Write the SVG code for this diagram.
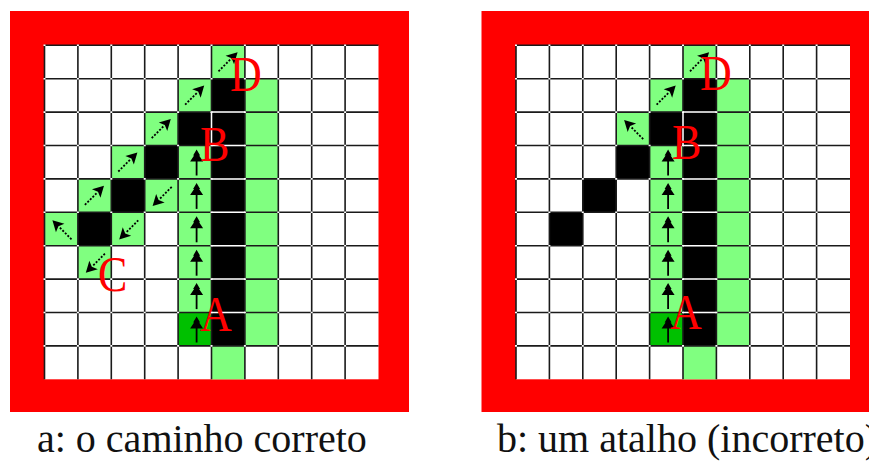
<svg xmlns="http://www.w3.org/2000/svg" xmlns:xlink="http://www.w3.org/1999/xlink" width="869" height="465" viewBox="0 0 869 465">
<style>
.frame{fill:#ff0000}
.bg{fill:#ffffff}
.lg{fill:#80ff80}
.dg{fill:#00c000}
.bk{fill:#000000}
.grid{stroke:#1a1a1a;stroke-width:1.6;fill:none}
.dots{stroke:#ffffff;stroke-width:1.6;stroke-dasharray:2 31.4;fill:none}
.wl{stroke:#ffffff;stroke-width:1.5;fill:none}
.lbl{font-family:"Liberation Serif","DejaVu Serif",serif;font-size:44px;fill:#ff0000}
.cap{font-family:"Liberation Serif","DejaVu Serif",serif;font-size:40px;fill:#111111}
</style>
<defs>
<g id="up">
<line x1="18.5" y1="13" x2="18.5" y2="30" stroke="#000" stroke-width="1.8"/>
<path d="M18.5,4 L22,10 L21,10 L25,16 L12,16 L16,10 L15,10 Z" fill="#000"/>
</g>
<g id="diag">
<line x1="0" y1="0" x2="18" y2="0" stroke="#000" stroke-width="1.8" stroke-dasharray="2 1.6"/>
<path d="M27,0 L16,-6 L18.5,0 L16,6 Z" fill="#000"/>
</g>
<g id="gridlines">
<path class="grid" d="M0,0V334M33.4,0V334M66.8,0V334M100.2,0V334M133.6,0V334M167,0V334M200.4,0V334M233.8,0V334M267.2,0V334M300.6,0V334M0,0H334M0,33.4H334M0,66.8H334M0,100.2H334M0,133.6H334M0,167H334M0,200.4H334M0,233.8H334M0,267.2H334M0,300.6H334"/>
<path class="wl" d="M167,66.8H200.4M167,100.2H200.4M167,133.6H200.4M167,167H200.4M167,200.4H200.4M167,233.8H200.4M167,267.2H200.4M167,66.8V100.2"/>
<path class="dots" d="M-1,0H302M-1,33.4H302M-1,66.8H302M-1,100.2H302M-1,133.6H302M-1,167H302M-1,200.4H302M-1,233.8H302M-1,267.2H302M-1,300.6H302"/>
</g>
</defs>

<g id="panel-a">
<rect class="frame" x="10" y="11" width="399" height="401"/>
<g id="grid-a" transform="translate(44.5,45.3)">
<rect class="bg" x="0" y="0" width="334" height="334"/>
<g id="cells-a">
<rect class="lg" x="200.4" y="33.4" width="33.4" height="267.2"/>
<rect class="lg" x="133.6" y="100.2" width="33.4" height="167"/>
<rect class="dg" x="133.6" y="267.2" width="33.4" height="33.4"/>
<rect class="lg" x="167" y="300.6" width="33.4" height="33.4"/>
<rect class="lg" x="167" y="0" width="33.4" height="33.4"/>
<rect class="lg" x="133.6" y="33.4" width="33.4" height="33.4"/>
<rect class="lg" x="100.2" y="66.8" width="33.4" height="33.4"/>
<rect class="lg" x="66.8" y="100.2" width="33.4" height="33.4"/>
<rect class="lg" x="33.4" y="133.6" width="33.4" height="33.4"/>
<rect class="lg" x="100.2" y="133.6" width="33.4" height="33.4"/>
<rect class="lg" x="0" y="167" width="33.4" height="33.4"/>
<rect class="lg" x="66.8" y="167" width="33.4" height="33.4"/>
<rect class="lg" x="33.4" y="200.4" width="33.4" height="33.4"/>
<rect class="bk" x="167" y="33.4" width="33.4" height="267.2"/>
<rect class="bk" x="133.6" y="66.8" width="33.4" height="33.4"/>
<rect class="bk" x="100.2" y="100.2" width="33.4" height="33.4"/>
<rect class="bk" x="66.8" y="133.6" width="33.4" height="33.4"/>
<rect class="bk" x="33.4" y="167" width="33.4" height="33.4"/>
</g>
<use xlink:href="#gridlines"/>
<g id="arrows-a">
<use xlink:href="#diag" transform="translate(174,26) rotate(-45)"/>
<use xlink:href="#diag" transform="translate(140.6,59.4) rotate(-45)"/>
<use xlink:href="#diag" transform="translate(107.2,92.8) rotate(-45)"/>
<use xlink:href="#diag" transform="translate(73.8,126.2) rotate(-45)"/>
<use xlink:href="#diag" transform="translate(40.4,159.6) rotate(-45)"/>
<use xlink:href="#diag" transform="translate(127.2,141.6) rotate(135)"/>
<use xlink:href="#diag" transform="translate(93.8,175) rotate(135)"/>
<use xlink:href="#diag" transform="translate(60.4,208.4) rotate(135)"/>
<use xlink:href="#diag" transform="translate(27,194) rotate(-135)"/>
<use xlink:href="#up" x="133.6" y="100.2"/>
<use xlink:href="#up" x="133.6" y="133.6"/>
<use xlink:href="#up" x="133.6" y="167"/>
<use xlink:href="#up" x="133.6" y="200.4"/>
<use xlink:href="#up" x="133.6" y="233.8"/>
<use xlink:href="#up" x="133.6" y="267.2"/>
</g>
</g>
<g id="labels-a">
<text class="lbl" transform="translate(230,91) scale(1,1.14)">D</text>
<text class="lbl" transform="translate(200,161) scale(1,1.14)">B</text>
<text class="lbl" transform="translate(98,291) scale(1,1.14)">C</text>
<text class="lbl" transform="translate(200,331) scale(1,1.14)">A</text>
</g>
<text id="caption-a" class="cap" x="37" y="452">a: o caminho correto</text>
</g>

<g id="panel-b">
<rect class="frame" x="481.5" y="11" width="400" height="401"/>
<g id="grid-b" transform="translate(516,45.3)">
<rect class="bg" x="0" y="0" width="334" height="334"/>
<g id="cells-b">
<rect class="lg" x="200.4" y="33.4" width="33.4" height="267.2"/>
<rect class="lg" x="133.6" y="100.2" width="33.4" height="167"/>
<rect class="dg" x="133.6" y="267.2" width="33.4" height="33.4"/>
<rect class="lg" x="167" y="300.6" width="33.4" height="33.4"/>
<rect class="lg" x="167" y="0" width="33.4" height="33.4"/>
<rect class="lg" x="133.6" y="33.4" width="33.4" height="33.4"/>
<rect class="lg" x="100.2" y="66.8" width="33.4" height="33.4"/>
<rect class="bk" x="167" y="33.4" width="33.4" height="267.2"/>
<rect class="bk" x="133.6" y="66.8" width="33.4" height="33.4"/>
<rect class="bk" x="100.2" y="100.2" width="33.4" height="33.4"/>
<rect class="bk" x="66.8" y="133.6" width="33.4" height="33.4"/>
<rect class="bk" x="33.4" y="167" width="33.4" height="33.4"/>
</g>
<use xlink:href="#gridlines"/>
<g id="arrows-b">
<use xlink:href="#diag" transform="translate(174,26) rotate(-45)"/>
<use xlink:href="#diag" transform="translate(140.6,59.4) rotate(-45)"/>
<use xlink:href="#diag" transform="translate(127.2,93.8) rotate(-135)"/>
<use xlink:href="#up" x="133.6" y="100.2"/>
<use xlink:href="#up" x="133.6" y="133.6"/>
<use xlink:href="#up" x="133.6" y="167"/>
<use xlink:href="#up" x="133.6" y="200.4"/>
<use xlink:href="#up" x="133.6" y="233.8"/>
<use xlink:href="#up" x="133.6" y="267.2"/>
</g>
</g>
<g id="labels-b">
<text class="lbl" transform="translate(700,90) scale(1,1.14)">D</text>
<text class="lbl" transform="translate(672,159) scale(1,1.14)">B</text>
<text class="lbl" transform="translate(670,329) scale(1,1.14)">A</text>
</g>
<text id="caption-b" class="cap" x="497" y="452">b: um atalho (incorreto)</text>
</g>
</svg>
